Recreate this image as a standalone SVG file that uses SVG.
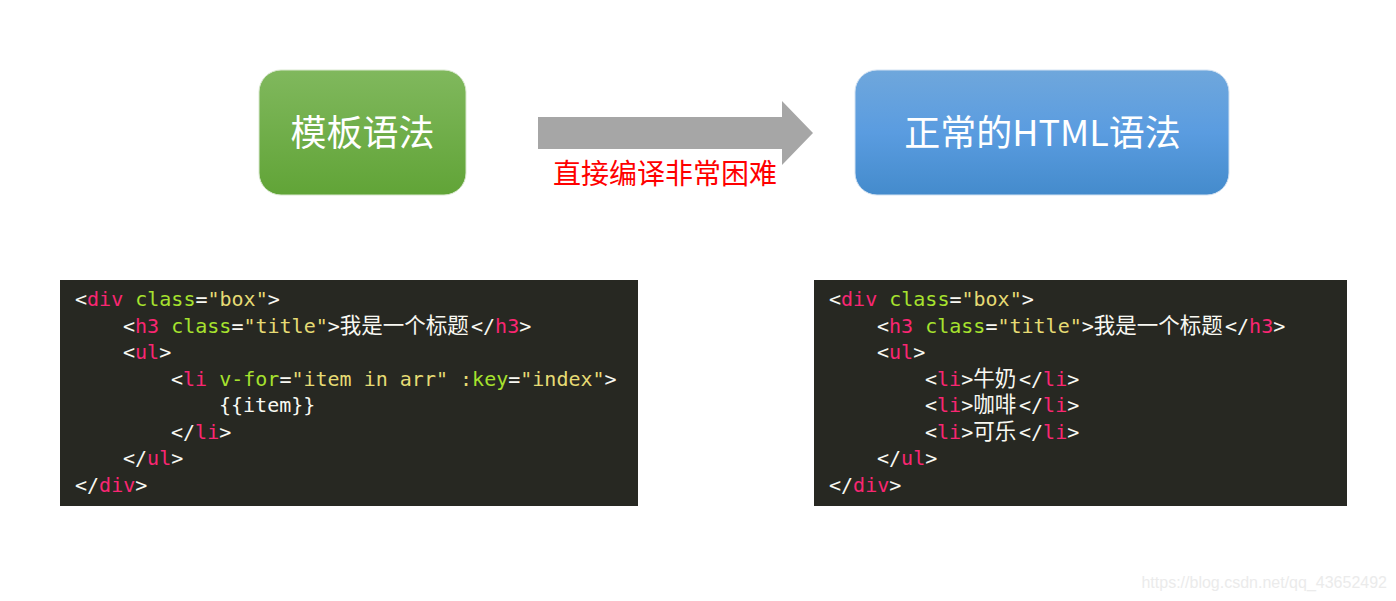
<svg xmlns="http://www.w3.org/2000/svg" width="1396" height="601" viewBox="0 0 1396 601">
<defs>
<linearGradient id="gG" x1="0" y1="0" x2="0" y2="1"><stop offset="0" stop-color="#80b85d"/><stop offset="1" stop-color="#61a437"/></linearGradient>
<linearGradient id="gB" x1="0" y1="0" x2="0" y2="1"><stop offset="0" stop-color="#6fa7dc"/><stop offset="0.5" stop-color="#5a9ce0"/><stop offset="1" stop-color="#448bcc"/></linearGradient>
<style>
.title{font-family:"Noto Sans CJK SC","Liberation Sans",sans-serif;font-size:36px;fill:#ffffff;text-anchor:middle}
.code{font-family:"DejaVu Sans Mono","Liberation Mono","Noto Sans CJK SC",monospace;font-size:20px;fill:#f8f8f2}
.cjk{font-size:21.5px}
.t{fill:#f92672}.a{fill:#a6e22e}.s{fill:#e6db74}
</style>
</defs>
<rect width="1396" height="601" fill="#ffffff"/>
<g id="node-template">
<rect x="259" y="70" width="207" height="125" rx="22" fill="url(#gG)" stroke="#d9e8cf" stroke-width="1"/>
<text class="title" x="362.5" y="146">模板语法</text>
</g>
<g id="node-html">
<rect x="855" y="70" width="374" height="125" rx="22" fill="url(#gB)" stroke="#d3e2f2" stroke-width="1"/>
<text class="title" x="1042.5" y="146" font-size="37">正常的HTML语法</text>
</g>
<g id="connectors">
<polygon points="538,117 782,117 782,101 813,133 782,165 782,149 538,149" fill="#a6a6a6"/>
<text x="665" y="184" font-family="Noto Sans CJK SC,sans-serif" font-size="28" fill="#ff0000" text-anchor="middle">直接编译非常困难</text>
</g>
<g id="code-left">
<rect x="60" y="280" width="578" height="226" fill="#272822"/>
<text class="code" x="75" y="306">&lt;<tspan class="t">div</tspan> <tspan class="a">class</tspan>=<tspan class="s">"box"</tspan>&gt;</text>
<text class="code" x="123" y="333">&lt;<tspan class="t">h3</tspan> <tspan class="a">class</tspan>=<tspan class="s">"title"</tspan>&gt;<tspan class="cjk">我是一个标题</tspan><tspan x="471">&lt;/</tspan><tspan class="t">h3</tspan>&gt;</text>
<text class="code" x="123" y="359">&lt;<tspan class="t">ul</tspan>&gt;</text>
<text class="code" x="171" y="386">&lt;<tspan class="t">li</tspan> <tspan class="a">v-for</tspan>=<tspan class="s">"item in arr"</tspan> <tspan class="s">:</tspan><tspan class="a">key</tspan>=<tspan class="s">"index"</tspan>&gt;</text>
<text class="code" x="219" y="412">{{item}}</text>
<text class="code" x="171" y="439">&lt;/<tspan class="t">li</tspan>&gt;</text>
<text class="code" x="123" y="465">&lt;/<tspan class="t">ul</tspan>&gt;</text>
<text class="code" x="75" y="492">&lt;/<tspan class="t">div</tspan>&gt;</text>
</g>
<g id="code-right">
<rect x="814" y="280" width="533" height="226" fill="#272822"/>
<text class="code" x="829" y="306">&lt;<tspan class="t">div</tspan> <tspan class="a">class</tspan>=<tspan class="s">"box"</tspan>&gt;</text>
<text class="code" x="877" y="333">&lt;<tspan class="t">h3</tspan> <tspan class="a">class</tspan>=<tspan class="s">"title"</tspan>&gt;<tspan class="cjk">我是一个标题</tspan><tspan x="1225">&lt;/</tspan><tspan class="t">h3</tspan>&gt;</text>
<text class="code" x="877" y="359">&lt;<tspan class="t">ul</tspan>&gt;</text>
<text class="code" x="925" y="386">&lt;<tspan class="t">li</tspan>&gt;<tspan class="cjk">牛奶</tspan><tspan x="1019">&lt;/</tspan><tspan class="t">li</tspan>&gt;</text>
<text class="code" x="925" y="412">&lt;<tspan class="t">li</tspan>&gt;<tspan class="cjk">咖啡</tspan><tspan x="1019">&lt;/</tspan><tspan class="t">li</tspan>&gt;</text>
<text class="code" x="925" y="439">&lt;<tspan class="t">li</tspan>&gt;<tspan class="cjk">可乐</tspan><tspan x="1019">&lt;/</tspan><tspan class="t">li</tspan>&gt;</text>
<text class="code" x="877" y="465">&lt;/<tspan class="t">ul</tspan>&gt;</text>
<text class="code" x="829" y="492">&lt;/<tspan class="t">div</tspan>&gt;</text>
</g>
<text x="1387" y="588" font-family="Liberation Sans,sans-serif" font-size="16" fill="#ebebeb" text-anchor="end">https://blog.csdn.net/qq_43652492</text>
</svg>
